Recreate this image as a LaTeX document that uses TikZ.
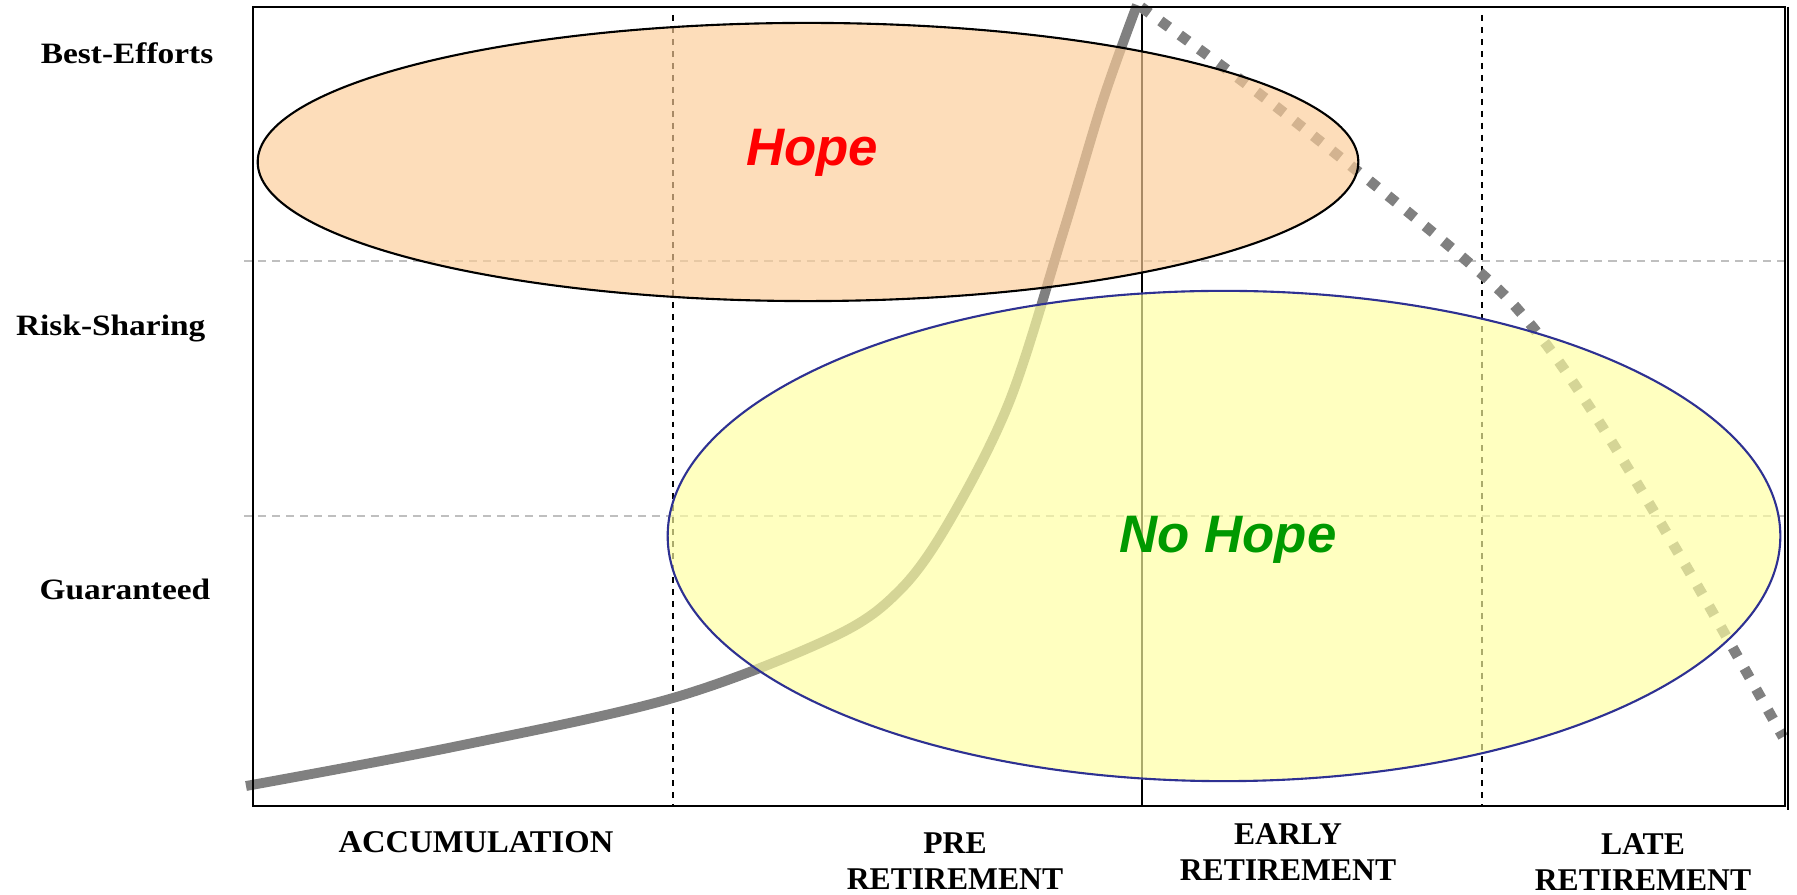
\documentclass[tikz,border=0pt]{standalone}
\usepackage{fontspec}
\setmainfont{Liberation Serif}
\newfontfamily\rowfont[FakeStretch=1.13]{Liberation Serif}
\newfontfamily\hopefont{Liberation Sans}
\usetikzlibrary{positioning}
\definecolor{peach}{RGB}{252,205,152}
\definecolor{paleyellow}{RGB}{255,255,161}
\definecolor{navyline}{RGB}{46,49,146}
\definecolor{hopegreen}{RGB}{0,153,0}

\begin{document}
\begin{tikzpicture}[x=0.01cm, y=-0.01cm,
	rowlabel/.style={anchor=base east, inner sep=0, font=\rowfont\bfseries\fontsize{8.4}{10}\selectfont},
	phaselabel/.style={anchor=north, inner sep=0, align=center, font=\bfseries\fontsize{9}{10.2}\selectfont},
	hopelabel/.style={anchor=base, inner sep=0, font=\hopefont\bfseries\itshape\fontsize{15}{18}\selectfont},
	gridline/.style={gray!50, line width=0.4pt, dash pattern=on 2.3pt off 1.7pt},
	phaseline/.style={black, line width=0.6pt, dash pattern=on 1.7pt off 1.7pt},
	dotcurve/.style={gray, line width=3pt, dash pattern=on 3pt off 3.8pt},
	solidcurve/.style={gray, line width=2.8pt}]
	\useasboundingbox (0,0) rectangle (1797,895);
	% grid and phases
	\draw [gridline] (244,261) -- (1785,261);
	\draw [gridline] (244,516) -- (1785,516);
	\draw [phaseline] (673,15) -- (673,806);
	\draw [phaseline] (1482,15) -- (1482,806);
	\draw [black, line width=0.6pt] (1142,7) -- (1142,806);
	% curves
	\draw [solidcurve] plot [smooth, tension=0.55] coordinates {(246,786) (458,746) (673,698) (833,637) (900,590) (950,520) (1010,400) (1063,233) (1103,100) (1137,5)};
	\draw [dotcurve] plot [smooth, tension=0.55] coordinates {(1141,7) (1283,112) (1468,262) (1535,330) (1603,428) (1690,573) (1783,737)};
	% regions
	\draw [black, line width=0.6pt, fill=peach, fill opacity=0.67] (808,162) ellipse [x radius=5.5cm, y radius=1.39cm];
	\draw [navyline, line width=0.6pt, fill=paleyellow, fill opacity=0.67] (1224,536) ellipse [x radius=5.56cm, y radius=2.45cm];
	\draw [black, line width=0.6pt] (253,7) rectangle (1785,806);
	\draw [black, line width=0.6pt] (1788,7) -- (1788,810);
	% texts
	\node [hopelabel, text=red] (hope) at (812,166) {Hope};
	\node [hopelabel, text=hopegreen] (nohope) at (1228,553) {No Hope};
	\node [rowlabel] (best) at (214,64) {Best-Efforts};
	\node [rowlabel] (risk) at (206,336) {Risk-Sharing};
	\node [rowlabel] (guar) at (211,600) {Guaranteed};
	\node [phaselabel, xscale=1.03] (accu) at (476,831) {ACCUMULATION};
	\node [phaselabel] (pre) at (955,832) {PRE\\RETIREMENT};
	\node [phaselabel] (early) at (1288,823) {EARLY\\RETIREMENT};
	\node [phaselabel] (late) at (1643,833) {LATE\\RETIREMENT};
\end{tikzpicture}
\end{document}
